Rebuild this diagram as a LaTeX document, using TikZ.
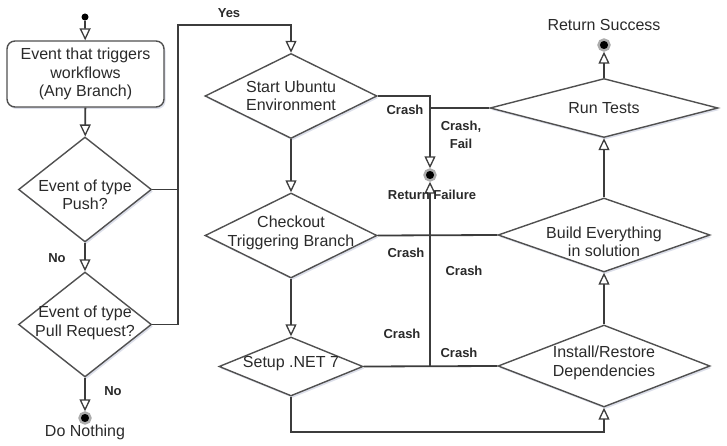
\documentclass[tikz,border=0pt]{standalone}
\usepackage{fontspec}
\setmainfont{Liberation Sans}
\usetikzlibrary{shapes.geometric, arrows.meta, shadows}
\definecolor{lc}{HTML}{3C3C3C}
\definecolor{bc}{HTML}{505050}
\definecolor{tc}{HTML}{2A2A2A}
\definecolor{sc}{HTML}{8C94B8}
\begin{document}
\begin{tikzpicture}[x=1pt,y=-1pt,
  every node/.append style={text=tc},
  shade/.style={drop shadow={fill=sc, opacity=0.3, shadow xshift=1.5pt, shadow yshift=-2pt}},
  dia/.style={diamond, draw=bc, line width=1.4pt, fill=white, inner sep=0pt, shade},
  boxst/.style={rectangle, rounded corners=8pt, draw=bc, line width=1.4pt, fill=white, inner sep=0pt, shade},
  txt/.style={align=center, font=\fontsize{16}{18.5}\selectfont},
  lbl/.style={align=center, font=\fontsize{13}{18}\selectfont\bfseries},
  ln/.style={draw=lc, line width=1.8pt},
  arr/.style={ln, -{Triangle[open, width=11pt, length=12pt, line width=1.3pt]}},
  final/.style={circle, fill=black, draw=gray!65, line width=2.4pt, minimum size=11pt, inner sep=0pt},
  startdot/.style={circle, fill=black, minimum size=7pt, inner sep=0pt},
]
\useasboundingbox (0,0) rectangle (727,446);

% left column
\node[startdot] (start) at (85,17) {};
\node[boxst, minimum width=157pt, minimum height=66pt] (ev) at (85.5,74) {};
\node[txt] (ev-t) at (ev) {Event that triggers\\workflows\\(Any Branch)};
\node[dia, minimum width=133pt, minimum height=105pt] (push) at (85,189.5) {};
\node[txt] (push-t) at (85,195) {Event of type\\Push?};
\node[dia, minimum width=133pt, minimum height=105pt] (pr) at (85,324.5) {};
\node[txt] (pr-t) at (85,323) {Event of type\\Pull Request?};
\node[final] (nothing) at (85,418) {};
\node[txt] (nothing-t) at (85,432) {Do Nothing};

% middle column
\node[dia, minimum width=172pt, minimum height=85pt] (ubuntu) at (291,96) {};
\node[txt] (ubuntu-t) at (ubuntu) {Start Ubuntu\\Environment};
\node[dia, minimum width=172pt, minimum height=85pt] (checkout) at (291,235.5) {};
\node[txt] (checkout-t) at (291,233) {Checkout\\Triggering Branch};
\node[dia, minimum width=144pt, minimum height=59pt] (setup) at (291,366.5) {};
\node[txt] (setup-t) at (291,364) {Setup .NET 7};

% right column
\node[final] (success) at (604,45) {};
\node[txt] (success-t) at (604,25) {Return Success};
\node[dia, minimum width=228pt, minimum height=59pt] (tests) at (604,108) {};
\node[txt] (tests-t) at (tests) {Run Tests};
\node[dia, minimum width=212pt, minimum height=74pt] (build) at (604,235) {};
\node[txt] (build-t) at (604,242) {Build Everything\\in solution};
\node[dia, minimum width=212pt, minimum height=82pt] (install) at (604,366) {};
\node[txt] (install-t) at (604,363) {Install/Restore\\Dependencies};

% failure
\node[final] (fail) at (430,175) {};

\coordinate (j0) at (178,25);

% connectors
\draw[arr] (start) -- (ev);
\draw[arr] (ev) -- (push);
\draw[arr] (push) -- (pr);
\draw[arr] (pr) -- (nothing);
\draw[ln] (push.east) -- (push.east -| j0);
\draw[arr] (pr.east) -| (j0) -| (ubuntu.north);
\draw[arr] (ubuntu) -- (checkout);
\draw[arr] (checkout) -- (setup);
\draw[arr] (setup.south) -- ++(0,35) -| (install.south);
\draw[arr] (install) -- (build);
\draw[arr] (build) -- (tests);
\draw[arr] (tests) -- (success);

\draw[arr] (ubuntu.east) -| (fail);
\draw[ln] (tests.west) -- (tests.west -| fail);
\draw[ln] (checkout.east) -- (build.west);
\draw[ln] (install.west) -- (setup.east);
\draw[arr] (setup.east) -| (fail);

% labels
\node[lbl] (yes) at (229,13) {Yes};
\node[lbl] (no1) at (57,258) {No};
\node[lbl] (no2) at (113,391) {No};
\node[lbl] (c1) at (405,110) {Crash};
\node[lbl] (c2) at (461,135) {Crash,\\Fail};
\node[lbl] (c3) at (406,253) {Crash};
\node[lbl] (c4) at (464,271) {Crash};
\node[lbl] (c5) at (402,334) {Crash};
\node[lbl] (c6) at (459,353) {Crash};
\node[lbl] (fail-t) at (432,195) {Return Failure};
\end{tikzpicture}
\end{document}
